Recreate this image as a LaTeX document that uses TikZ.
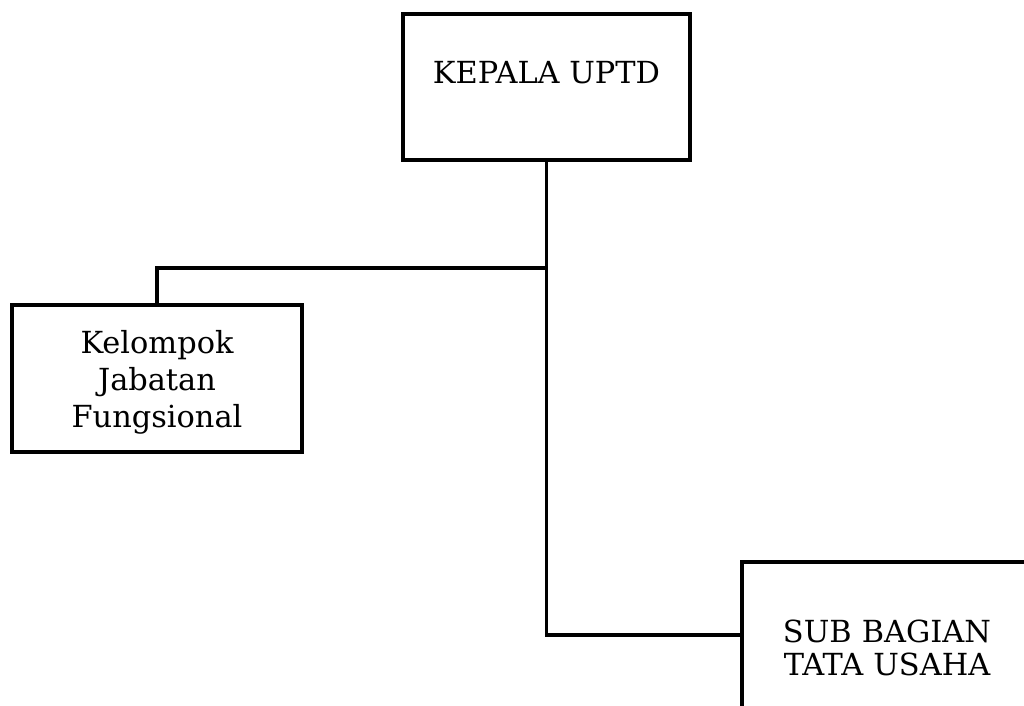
\documentclass[tikz,border=0pt]{standalone}
\usepackage{fontspec}
\setmainfont{DejaVu Serif}

\tikzset{
  kotak/.style={draw, line width=2.2pt, minimum width=5.8cm, minimum height=2.95cm,
    inner sep=0pt, font=\fontsize{17.3}{20}\selectfont},
  garis/.style={line width=2.2pt}
}

\begin{document}
\begin{tikzpicture}

        \useasboundingbox (0,0) rectangle (20.48,14.1);

        \node[kotak, minimum width=5.74cm, minimum height=2.92cm, text depth=0.6cm] (kepala) at (10.93,12.36) {KEPALA UPTD};

        \node[kotak, text width=5.4cm, align=center, text depth=1.45cm, font=\fontsize{17.3}{21}\selectfont] (kelompok) at (3.14,6.53) {Kelompok\\Jabatan\\Fungsional};

        \node[kotak, minimum height=2.92cm, text width=5.4cm, align=center, text height=0.5cm, text depth=0.19cm,
              font=\fontsize{17.3}{18.8}\selectfont] (sub) at (17.74,1.40) {SUB BAGIAN\\TATA USAHA};

        \path (kepala.south) ++(0,-2.12) coordinate (cabang);

        \draw[garis] (kepala.south) |- (sub.west);
        \draw[garis] (cabang) -| (kelompok.north);

\end{tikzpicture}
\end{document}
